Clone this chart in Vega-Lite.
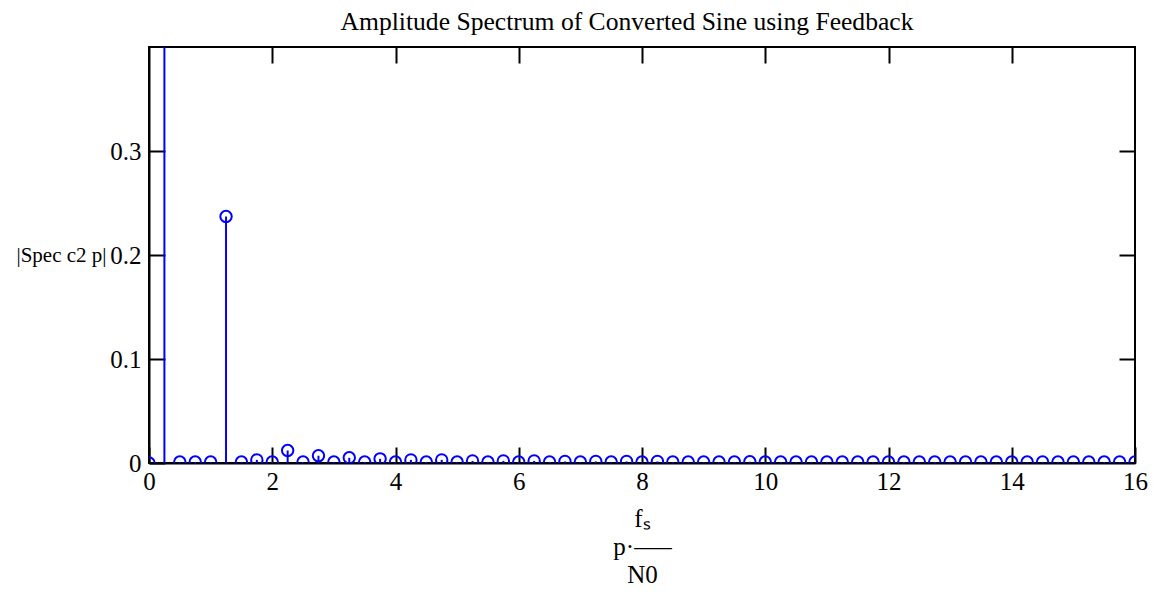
{
  "$schema": "https://vega.github.io/schema/vega-lite/v6.json",
  "width": 986,
  "height": 416,
  "autosize": "none",
  "padding": {"left": 149, "top": 47, "right": 24, "bottom": 129},
  "background": "white",
  "config": {
    "font": "Liberation Serif",
    "view": {"stroke": "black", "strokeWidth": 2},
    "axis": {"grid": false, "domainColor": "black", "domainWidth": 2, "tickColor": "black", "tickWidth": 2, "labelColor": "black", "labelFontSize": 25, "labelFont": "Liberation Serif", "titleFont": "Liberation Serif", "titleFontWeight": "normal", "titleColor": "black", "titleFontSize": 25}
  },
  "title": {"text": "Amplitude Spectrum of Converted Sine using Feedback", "font": "Liberation Serif", "fontSize": 25.6, "fontWeight": "normal", "color": "black", "offset": 10, "dx": -15},
  "data": {"values": [
    {"f": 0.0, "a": 0.0},
    {"f": 0.25, "a": 0.64},
    {"f": 0.5, "a": 0.001},
    {"f": 0.75, "a": 0.001},
    {"f": 1.0, "a": 0.001},
    {"f": 1.25, "a": 0.237},
    {"f": 1.5, "a": 0.001},
    {"f": 1.75, "a": 0.003},
    {"f": 2.0, "a": 0.001},
    {"f": 2.25, "a": 0.012},
    {"f": 2.5, "a": 0.001},
    {"f": 2.75, "a": 0.007},
    {"f": 3.0, "a": 0.001},
    {"f": 3.25, "a": 0.005},
    {"f": 3.5, "a": 0.001},
    {"f": 3.75, "a": 0.004},
    {"f": 4.0, "a": 0.001},
    {"f": 4.25, "a": 0.003},
    {"f": 4.5, "a": 0.001},
    {"f": 4.75, "a": 0.003},
    {"f": 5.0, "a": 0.001},
    {"f": 5.25, "a": 0.002},
    {"f": 5.5, "a": 0.001},
    {"f": 5.75, "a": 0.002},
    {"f": 6.0, "a": 0.001},
    {"f": 6.25, "a": 0.002},
    {"f": 6.5, "a": 0.001},
    {"f": 6.75, "a": 0.0015},
    {"f": 7.0, "a": 0.001},
    {"f": 7.25, "a": 0.0015},
    {"f": 7.5, "a": 0.001},
    {"f": 7.75, "a": 0.0015},
    {"f": 8.0, "a": 0.001},
    {"f": 8.25, "a": 0.0015},
    {"f": 8.5, "a": 0.001},
    {"f": 8.75, "a": 0.001},
    {"f": 9.0, "a": 0.001},
    {"f": 9.25, "a": 0.001},
    {"f": 9.5, "a": 0.001},
    {"f": 9.75, "a": 0.0012},
    {"f": 10.0, "a": 0.001},
    {"f": 10.25, "a": 0.001},
    {"f": 10.5, "a": 0.001},
    {"f": 10.75, "a": 0.001},
    {"f": 11.0, "a": 0.001},
    {"f": 11.25, "a": 0.001},
    {"f": 11.5, "a": 0.001},
    {"f": 11.75, "a": 0.001},
    {"f": 12.0, "a": 0.001},
    {"f": 12.25, "a": 0.001},
    {"f": 12.5, "a": 0.001},
    {"f": 12.75, "a": 0.001},
    {"f": 13.0, "a": 0.001},
    {"f": 13.25, "a": 0.001},
    {"f": 13.5, "a": 0.001},
    {"f": 13.75, "a": 0.001},
    {"f": 14.0, "a": 0.001},
    {"f": 14.25, "a": 0.001},
    {"f": 14.5, "a": 0.001},
    {"f": 14.75, "a": 0.001},
    {"f": 15.0, "a": 0.001},
    {"f": 15.25, "a": 0.001},
    {"f": 15.5, "a": 0.001},
    {"f": 15.75, "a": 0.001},
    {"f": 16.0, "a": 0.001}
  ]},
  "layer": [
    {
      "mark": {"type": "rule", "color": "#0000ff", "strokeWidth": 2, "clip": true},
      "encoding": {
        "x": {"field": "f", "type": "quantitative", "scale": {"domain": [0, 16], "nice": false, "zero": false},
          "axis": {"orient": "bottom", "values": [0, 2, 4, 6, 8, 10, 12, 14, 16], "tickSize": -16, "labelPadding": 22, "labelFlush": false,
            "title": ["   fₛ", "p·—–", "   N0"], "titleLineHeight": 28, "titlePadding": 12}},
        "y": {"field": "a", "type": "quantitative", "scale": {"domain": [0, 0.4], "nice": false},
          "axis": {"orient": "left", "values": [0, 0.1, 0.2, 0.3], "format": "~g", "tickSize": -16, "labelPadding": 24, "labelFlush": false,
            "title": "|Spec c2 p|", "titleFontSize": 21, "titleAngle": 0, "titleAlign": "center", "titleBaseline": "middle", "titleX": -88, "titleY": 208}},
        "y2": {"datum": 0}
      }
    },
    {
      "mark": {"type": "point", "shape": "circle", "filled": false, "color": "#0000ff", "strokeWidth": 2, "size": 130, "clip": true, "opacity": 1},
      "encoding": {
        "x": {"field": "f", "type": "quantitative", "scale": {"domain": [0, 16], "nice": false, "zero": false},
          "axis": {"orient": "top", "values": [2, 4, 6, 8, 10, 12, 14], "tickSize": -16, "labels": false, "domain": false, "title": null}},
        "y": {"field": "a", "type": "quantitative", "scale": {"domain": [0, 0.4], "nice": false},
          "axis": {"orient": "right", "values": [0.1, 0.2, 0.3], "tickSize": -16, "labels": false, "domain": false, "title": null}}
      }
    }
  ],
  "resolve": {"axis": {"x": "independent", "y": "independent"}}
}
